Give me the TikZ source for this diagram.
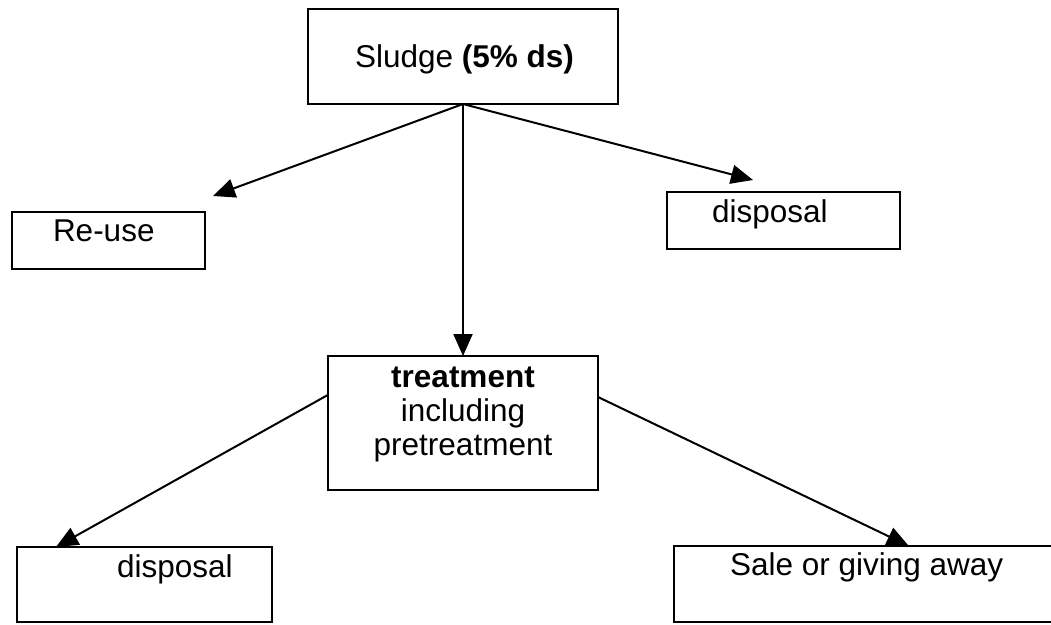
\documentclass[tikz,border=0pt]{standalone}
\usepackage{fontspec}
\setmainfont{Liberation Sans}
\usetikzlibrary{arrows.meta,calc}
\begin{document}
\begin{tikzpicture}[x=1pt,y=-1pt,
  box/.style={draw=black,line width=2.4pt,fill=white,inner sep=0pt,outer sep=0pt},
  lbl/.style={inner sep=0pt,outer sep=0pt,anchor=base west,font=\fontsize{31.5}{34}\selectfont},
  flow/.style={draw=black,line width=2pt,-{Triangle[length=22pt,width=19pt]}}]
\useasboundingbox (0,0) rectangle (1051,624);

% boxes
\node[box,minimum width=310pt,minimum height=95pt] (sludge) at (463,56.5) {};
\node[box,minimum width=193pt,minimum height=57pt] (reuse) at (108.5,240.5) {};
\node[box,minimum width=233pt,minimum height=57pt] (dispA) at (783.5,220.5) {};
\node[box,minimum width=270pt,minimum height=134pt] (treat) at (463,423) {};
\node[box,minimum width=255pt,minimum height=75pt] (dispB) at (144.5,584.5) {};
\node[box,minimum width=396pt,minimum height=76pt] (sale) at (872,584) {};

% texts
\node[lbl] (tSludge) at (355,67) {Sludge \textbf{(5\% ds)}};
\node[lbl] (tReuse) at (53,241) {Re-use};
\node[lbl] (tDispA) at (712,222) {disposal};
% the base anchor of a multi-line node sits on its last line
\node[inner sep=0pt,align=center,anchor=base,font=\fontsize{31.5}{34}\selectfont] (tTreat) at (463,455)
  {\textbf{treatment}\\including\\pretreatment};
\node[lbl] (tDispB) at (117,577) {disposal};
\node[lbl] (tSale) at (730,575) {Sale or giving away};

% connector ends
\coordinate (reuseTip) at (213,196);
\coordinate (dispATip) at (753,180);
\coordinate (treatL) at ($(treat.north west)!0.29!(treat.south west)$);
\coordinate (treatR) at ($(treat.north east)!0.306!(treat.south east)$);
\coordinate (dispBTip) at ($(dispB.north west)!0.153!(dispB.north east)$);
\coordinate (saleTip) at ($(sale.north west)!0.593!(sale.north east)$);

% connectors
\draw[flow] (sludge.south) -- (reuseTip);
\draw[flow] (sludge.south) -- (dispATip);
\draw[flow] (sludge.south) -- (treat.north);
\draw[flow] (treatL) -- (dispBTip);
\draw[flow] (treatR) -- (saleTip);
\end{tikzpicture}
\end{document}
